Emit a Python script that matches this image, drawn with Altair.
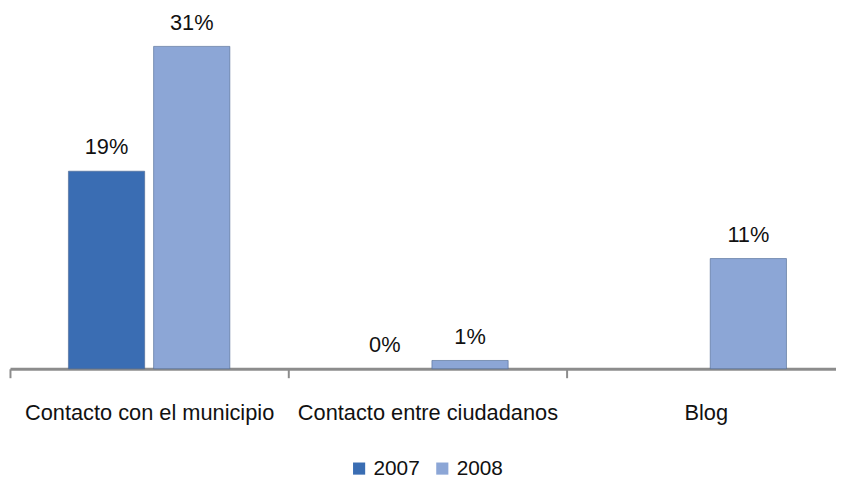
import altair as alt
import pandas as pd

categories = ["Contacto con el municipio", "Contacto entre ciudadanos", "Blog"]
years = ["2007", "2008"]
values_2007 = [0.19, 0.0, None]
values_2008 = [0.31, 0.008, 0.106]
colors = ["#3A6DB3", "#8CA6D6"]

rows = []
for cat, a, b in zip(categories, values_2007, values_2008):
    if a is not None:
        rows.append({"categoria": cat, "anio": "2007", "valor": a})
    if b is not None:
        rows.append({"categoria": cat, "anio": "2008", "valor": b})
df = pd.DataFrame(rows)

FONT = "Liberation Sans"

x = alt.X(
    "categoria:N",
    sort=categories,
    title=None,
    scale=alt.Scale(paddingInner=0, paddingOuter=0),
    axis=alt.Axis(
        labelAngle=0, labelFontSize=22, labelFont=FONT, labelColor="#111111",
        labelPadding=25, labelLimit=400, tickSize=9, tickColor="#8c8c8c",
        tickWidth=2, domainColor="#8c8c8c", domainWidth=3, tickBand="extent",
    ),
)
y = alt.Y("valor:Q", scale=alt.Scale(domain=[0, 0.34]), axis=None)
xo = alt.XOffset("anio:N", sort=years,
                 scale=alt.Scale(paddingInner=0.105, paddingOuter=0.686))

bars = alt.Chart(df).mark_bar(stroke="#4a6590", strokeWidth=1).encode(
    x=x, y=y, xOffset=xo,
    strokeOpacity=alt.condition(alt.datum.valor > 0, alt.value(0.6), alt.value(0)),
    color=alt.Color(
        "anio:N",
        scale=alt.Scale(domain=years, range=colors),
        legend=alt.Legend(
            title=None, orient="none", direction="horizontal",
            legendX=342, legendY=447,
            labelFontSize=21, labelFont=FONT, labelColor="#111111",
            symbolType="square", symbolSize=150, symbolStrokeWidth=0,
            columnPadding=12, labelOffset=4,
        ),
    ),
)

labels = alt.Chart(df).mark_text(
    dy=-17, baseline="alphabetic", fontSize=22, font=FONT, color="#111111"
).encode(
    x=x, y=y, xOffset=xo,
    text=alt.Text("valor:Q", format=".0%"),
)

chart = alt.layer(bars, labels).properties(
    width=843, height=357,
    autosize=alt.AutoSizeParams(type="none"),
    padding={"left": 2, "top": 5, "right": -9, "bottom": 109},
).configure_view(stroke=None)

chart.save("out.html", embed_options={"renderer": "svg", "actions": False})
